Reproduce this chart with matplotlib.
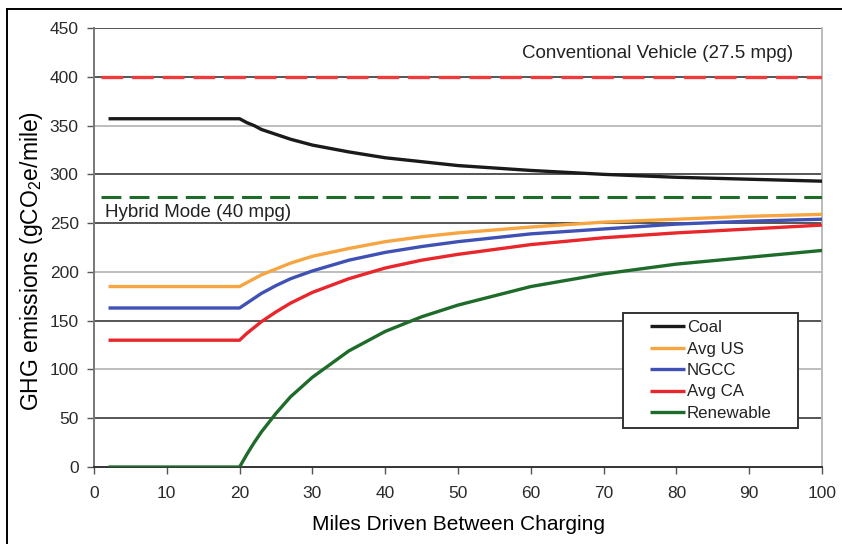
import numpy as np
import matplotlib.pyplot as plt
from matplotlib.lines import Line2D
from matplotlib.patches import Rectangle

plt.rcParams['font.family'] = ['Liberation Sans', 'DejaVu Sans']
plt.rcParams['mathtext.fontset'] = 'custom'
plt.rcParams['mathtext.rm'] = 'Liberation Sans'
plt.rcParams['mathtext.it'] = 'Liberation Sans:italic'

# ---- data ----
miles = [2, 20, 21, 22, 23, 25, 27, 30, 35, 40, 45, 50, 60, 70, 80, 90, 100]

coal = [357, 357, 353, 350, 346, 341, 336, 330, 323, 317, 313, 309, 304, 300, 297, 295, 293]
avg_us = [185, 185, 189, 193, 197, 203, 209, 216, 224, 231, 236, 240, 246, 251, 254, 257, 259]
ngcc = [163, 163, 168, 173, 178, 186, 193, 201, 212, 220, 226, 231, 239, 244, 249, 252, 254]
avg_ca = [130, 130, 137, 143, 149, 159, 168, 179, 193, 204, 212, 218, 228, 235, 240, 244, 248]
renewable = [0, 0, 13, 25, 36, 55, 72, 92, 119, 139, 154, 166, 185, 198, 208, 215, 222]

conventional = 400   # 27.5 mpg
hybrid = 277         # 40 mpg
ref_x = [1, 100]

series = [("Coal", coal, "#1a1a1a"),
          ("Avg US", avg_us, "#f7a541"),
          ("NGCC", ngcc, "#3f51b5"),
          ("Avg CA", avg_ca, "#e8262b"),
          ("Renewable", renewable, "#1e6b2a")]

# ---- figure ----
fig = plt.figure(figsize=(8.42, 5.44), dpi=100)
ax = fig.add_axes([0.1116, 0.1415, 0.8647, 0.807])

# gridlines, alternating shades like the original
dark_grid = [50, 150, 250, 300, 400, 450]
light_grid = [100, 200, 350]
for g in dark_grid:
    ax.axhline(g, color="#555555", lw=1.4, zorder=1)
for g in light_grid:
    ax.axhline(g, color="#bdbdbd", lw=1.4, zorder=1)

# reference vehicles
ax.plot(ref_x, [conventional] * 2, color="#ee3b3b", lw=2.4,
        dashes=(6.5, 2.7), zorder=3)
ax.plot(ref_x, [hybrid] * 2, color="#1e6b2a", lw=2.2,
        dashes=(6.5, 2.7), zorder=3)

for name, vals, c in series:
    ax.plot(miles, vals, color=c, lw=2.4, label=name, zorder=4,
            solid_capstyle="butt")

ax.text(96, 424, "Conventional Vehicle (27.5 mpg)", ha="right", va="center",
        fontsize=13.5, color="#222222")
ax.text(1.5, 261, "Hybrid Mode (40 mpg)", ha="left", va="center",
        fontsize=13.5, color="#222222")

ax.set_xlim(0, 100)
ax.set_ylim(0, 450)
ax.set_xticks(range(0, 101, 10))
ax.set_yticks(range(0, 451, 50))
ax.tick_params(axis="both", labelsize=12.5, labelcolor="#2b2b2b",
               color="#555555", length=5, width=1)
ax.tick_params(axis="y", pad=6)
ax.tick_params(axis="x", pad=9)

ax.spines["left"].set_color("#777777")
ax.spines["bottom"].set_color("#333333")
ax.spines["right"].set_color("#bbbbbb")
ax.spines["top"].set_visible(False)
for s in ax.spines.values():
    s.set_linewidth(1.4)

ax.set_xlabel("Miles Driven Between Charging", fontsize=15, labelpad=10)
ax.set_ylabel("GHG emissions (gCO$_2$e/mile)", fontsize=16.5)
ax.yaxis.set_label_coords(-0.067, 0.469)

# legend box drawn by hand so the side padding matches the original
ax.add_patch(Rectangle((0.7266, 0.0888), 0.2404, 0.262, transform=ax.transAxes,
                       facecolor="white", edgecolor="#333333", lw=1.4, zorder=5))
leg = ax.legend(loc="center", bbox_to_anchor=(0.847, 0.2198),
                fontsize=12.2, handlelength=2.1, handletextpad=0.1,
                labelspacing=0.38, borderpad=0.1, frameon=False)
for t in leg.get_texts():
    t.set_color("#222222")
leg.set_zorder(6)

# outer frame around the figure (left and top only visible)
fig.add_artist(Line2D([0.0083, 0.0083], [0.0, 0.9835], color="black", lw=1.4))
fig.add_artist(Line2D([0.0083, 1.0], [0.9835, 0.9835], color="black", lw=1.4))

fig.savefig("out.png", dpi=100)
